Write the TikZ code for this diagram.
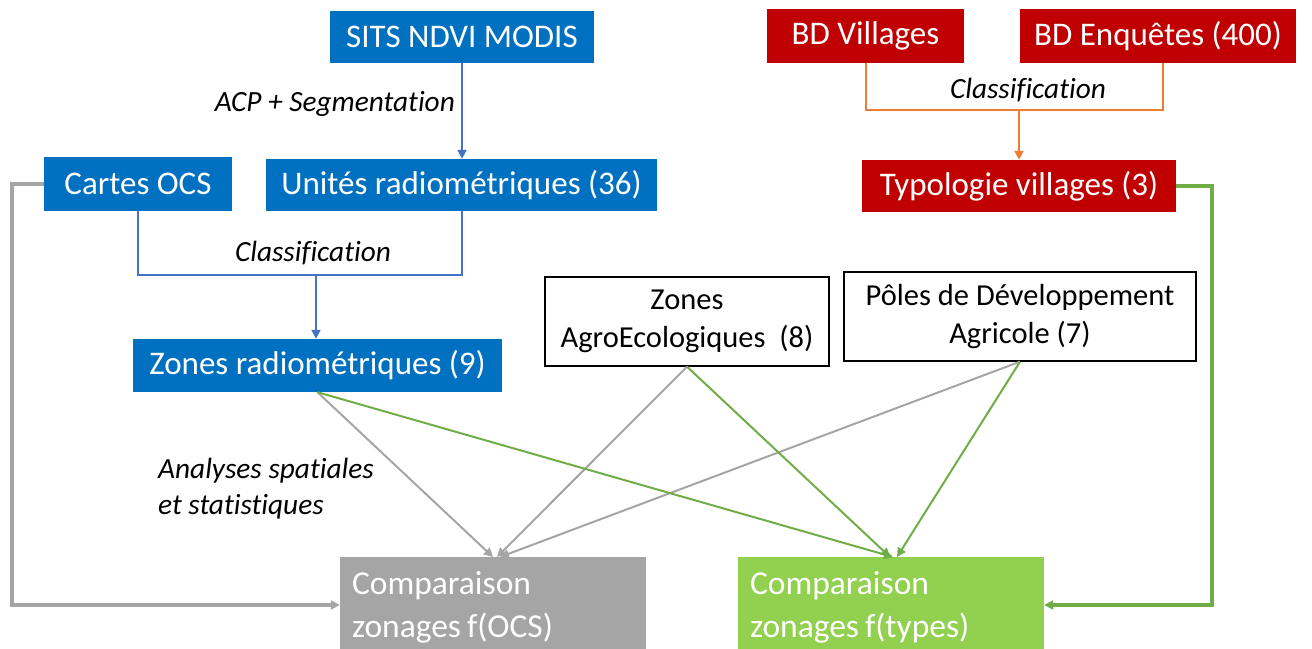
\documentclass[tikz,border=0pt]{standalone}
\usepackage{fontspec}
\setmainfont[Ligatures=NoCommon]{Carlito}
\usetikzlibrary{arrows.meta}
\definecolor{mblue}{HTML}{0070C0}
\definecolor{lblue}{HTML}{4472C4}
\definecolor{mred}{HTML}{C00000}
\definecolor{morange}{HTML}{ED7D31}
\definecolor{mgray}{HTML}{A5A5A5}
\definecolor{mgreen}{HTML}{92D050}
\definecolor{lgreen}{HTML}{70AD47}
\newcommand\mytightsp{\spaceskip=6pt\relax}
\tikzset{
  box/.style={inner sep=0pt, text=white, font=\fontsize{33}{40}\selectfont},
  bluebox/.style={box, fill=mblue},
  redbox/.style={box, fill=mred},
  whitebox/.style={inner sep=0pt, fill=white, draw=black, line width=1.3pt, text=black, align=center, font=\fontsize{30.5}{38}\selectfont},
  cmpbox/.style={box, minimum width=306pt, minimum height=100pt, text width=282pt, align=left, anchor=north, font=\fontsize{33.5}{43}\selectfont},
  arr/.style={-{Triangle[length=9pt,width=9pt]}},
  thin/.style={line width=2pt},
  thick/.style={line width=3.2pt},
  lbl/.style={font=\fontsize{29.3}{36}\selectfont\itshape, text=black, inner sep=0pt},
}
\begin{document}
\begin{tikzpicture}[x=1pt,y=-1pt]
\useasboundingbox (0,0) rectangle (1312,648);
% boxes
\node[bluebox, minimum width=264pt, minimum height=52pt] (sits) at (462,37) {SITS NDVI MODIS};
\node[bluebox, minimum width=188pt, minimum height=54pt] (cartes) at (138,184) {Cartes OCS};
\node[bluebox, minimum width=391pt, minimum height=52pt] (unites) at (461.5,185) {Unités radiométriques (36)};
\node[bluebox, minimum width=369pt, minimum height=53pt] (zrad) at (317.5,365.5) {Zones radiométriques (9)};
\node[whitebox, minimum width=284pt, minimum height=89pt] (agro) at (687,321.5) {Zones\\AgroEcologiques~ (8)};
\node[whitebox, minimum width=352pt, minimum height=89pt] (poles) at (1020,316.5) {Pôles de Développement\\Agricole (7)};
\node[redbox, minimum width=197pt, minimum height=54pt] (bdv) at (865.5,36) {BD Villages};
\node[redbox, minimum width=276pt, minimum height=54pt] (bde) at (1158,36) {BD Enquêtes (400)};
\node[redbox, minimum width=314pt, minimum height=52pt] (typo) at (1019,186) {Typologie villages (3)};
\node[cmpbox, fill=mgray] (focs) at (493,557) {\mytightsp Comparaison\\zonages f(OCS)};
\node[cmpbox, fill=mgreen] (ftypes) at (891,557) {\mytightsp Comparaison\\zonages f(types)};
% blue connectors
\draw[lblue, thin, arr] (sits.south) -- (unites.north -| sits.south);
\node[lbl, anchor=east] (acp) at (455,104) {ACP + Segmentation};
\coordinate (bj) at (316,275);
\draw[lblue, thin] (cartes.south) |- (bj) -| (unites.south);
\draw[lblue, thin, arr] (bj) -- (zrad.north -| bj);
\node[lbl] (cl1) at (313,253) {Classification};
% orange connectors
\coordinate (oj) at (1019,110);
\draw[morange, thin] (bdv.south) |- (oj) -| ([xshift=5pt]bde.south);
\draw[morange, thin, arr] (oj) -- (typo.north -| oj);
\node[lbl] (cl2) at (1028,90) {Classification};
% thick side connectors
\coordinate (g1) at (12,605);
\draw[mgray, thick, arr] (cartes.west) -| (g1) -- (focs.west |- g1);
\coordinate (g2) at (1212,605);
\draw[lgreen, thick, arr] (typo.east) -| (g2) -- (ftypes.east |- g2);
% diagonal connectors
\draw[mgray, thin, arr] (zrad.south) -- ([xshift=0pt]focs.north);
\draw[mgray, thin, arr] (agro.south) -- ([xshift=4pt]focs.north);
\draw[mgray, thin, arr] (poles.south) -- ([xshift=7pt]focs.north);
\draw[lgreen, thin, arr] (zrad.south) -- ([xshift=2pt]ftypes.north);
\draw[lgreen, thin, arr] (agro.south) -- ([xshift=-1pt]ftypes.north);
\draw[lgreen, thin, arr] (poles.south) -- ([xshift=6pt]ftypes.north);
\node[lbl, anchor=west, align=left] (an) at (158,489) {Analyses spatiales\\et statistiques};
\end{tikzpicture}
\end{document}
